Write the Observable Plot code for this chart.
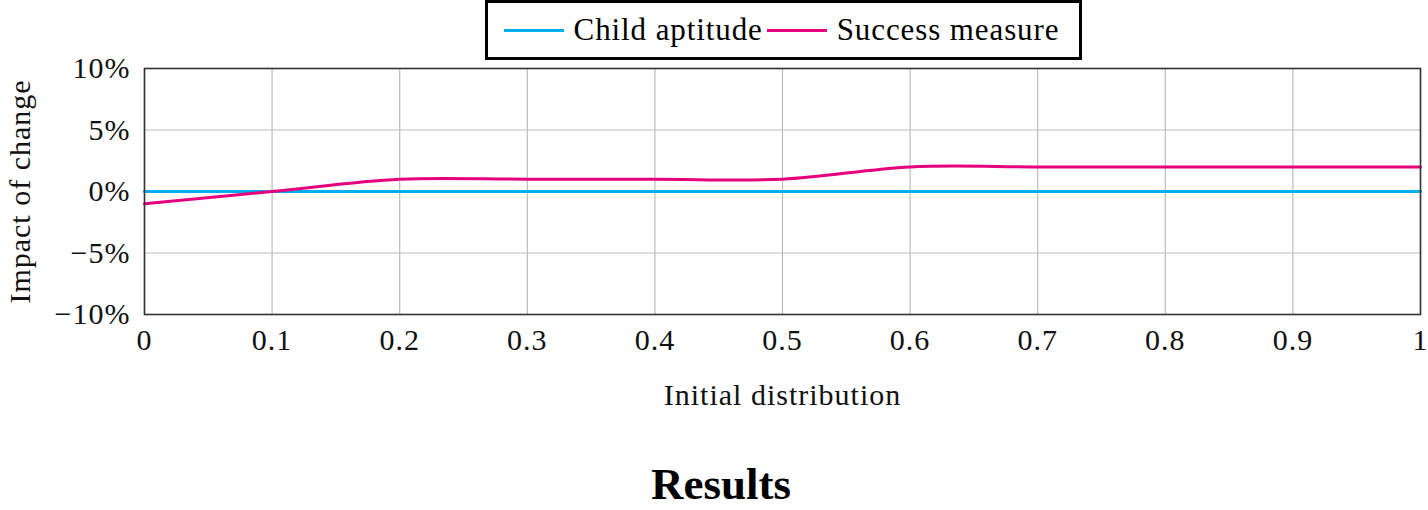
<!DOCTYPE html>
<html>
<head>
<meta charset="utf-8">
<script src="https://cdn.jsdelivr.net/npm/d3@7"></script>
<script src="https://cdn.jsdelivr.net/npm/@observablehq/plot@0.6"></script>
<style>
  html, body { margin: 0; padding: 0; background: #fff; }
  #wrap { position: relative; width: 1428px; height: 510px; overflow: hidden; }
  #legend {
    position: absolute; left: 485px; top: 0px; width: 591px; height: 54px;
    border: 3px solid #000; box-sizing: content-box;
    font-family: "Liberation Serif", serif; font-size: 31px; letter-spacing: 0.9px;
    display: flex; align-items: center; justify-content: center; white-space: nowrap;
  }
  .sw { display: inline-block; width: 60px; height: 3px; margin: 0 10px 0 0; vertical-align: middle; }
  .item { display: inline-flex; align-items: center; margin-right: 4px; }
  #chart { position: absolute; left: 0; top: 0; }
  #chart svg text { letter-spacing: 1px; }
  #caption {
    position: absolute; left: 0; width: 1428px; top: 460px; height: 49px; line-height: 49px; text-align: center;
    font-family: "Liberation Serif", serif; font-weight: bold; font-size: 45px; padding-left: 14px; box-sizing: border-box;
  }
</style>
</head>
<body>
<div id="wrap">
  <div id="chart"></div>
  <div id="legend"></div>
  <div id="caption">Results</div>
</div>
<script>
const xValues = [0, 0.1, 0.2, 0.3, 0.4, 0.5, 0.6, 0.7, 0.8, 0.9, 1];
const childAptitude = [0, 0, 0, 0, 0, 0, 0, 0, 0, 0, 0];
const successMeasure = [-1, 0, 1, 1, 1, 1, 2, 2, 2, 2, 2];
const seriesNames = ["Child aptitude", "Success measure"];
const seriesColors = ["#00AEEF", "#E6007E"];
const xTicks = [0, 0.1, 0.2, 0.3, 0.4, 0.5, 0.6, 0.7, 0.8, 0.9, 1];
const yTicks = [-10, -5, 0, 5, 10];

const rows = [];
xValues.forEach((x, i) => {
  rows.push({x, y: childAptitude[i], s: seriesNames[0]});
  rows.push({x, y: successMeasure[i], s: seriesNames[1]});
});

const fmtY = d => (d < 0 ? "\u2212" : "") + Math.abs(d) + "%";
const fmtX = d => String(+d.toFixed(1));

const plot = Plot.plot({
  width: 1428,
  height: 440,
  marginTop: 68,
  marginBottom: 126,
  marginLeft: 144,
  marginRight: 8,
  style: {fontFamily: "Liberation Serif, serif", fontSize: "30px", color: "#111", background: "transparent"},
  x: {domain: [0, 1], ticks: xTicks},
  y: {domain: [-10, 10], ticks: yTicks},
  color: {domain: seriesNames, range: seriesColors},
  marks: [
    Plot.gridX(xTicks, {stroke: "#bbb", strokeOpacity: 1, strokeWidth: 1.2}),
    Plot.gridY(yTicks, {stroke: "#bbb", strokeOpacity: 1, strokeWidth: 1.2}),
    Plot.axisX(xTicks, {tickSize: 0, tickPadding: 14, tickFormat: fmtX, label: "Initial distribution", labelAnchor: "center", labelOffset: 90, labelArrow: "none"}),
    Plot.axisY(yTicks, {tickSize: 0, tickPadding: 14, tickFormat: fmtY, label: "Impact of change", labelAnchor: "center", labelOffset: 136, labelArrow: "none"}),
    Plot.line(rows, {x: "x", y: "y", z: "s", stroke: "s", strokeWidth: 3, curve: "catmull-rom"}),
    Plot.frame({stroke: "#333", strokeWidth: 1.6})
  ]
});
document.getElementById("chart").appendChild(plot);

const legend = document.getElementById("legend");
seriesNames.forEach((n, i) => {
  const it = document.createElement("span");
  it.className = "item";
  const sw = document.createElement("span");
  sw.className = "sw";
  sw.style.background = seriesColors[i];
  it.appendChild(sw);
  it.appendChild(document.createTextNode(n));
  legend.appendChild(it);
});
</script>
</body>
</html>
